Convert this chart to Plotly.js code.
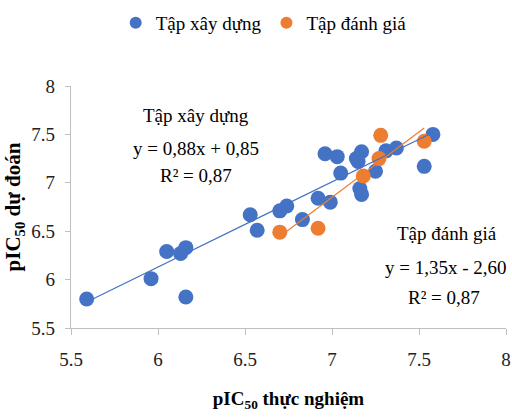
<!DOCTYPE html>
<html>
<head>
<meta charset="utf-8">
<script src="https://cdn.plot.ly/plotly-3.0.1.min.js"></script>
<style>html,body{margin:0;padding:0;background:#fff;}#chart{width:512px;height:417px;}</style>
</head>
<body>
<div id="chart"></div>
<script>
const trainX = [5.59, 5.96, 6.05, 6.13, 6.16, 6.16, 6.53, 6.57, 6.70, 6.74, 6.83, 6.92, 6.99, 6.96, 7.03, 7.05, 7.15, 7.17, 7.16, 7.17, 7.25, 7.31, 7.37, 7.53, 7.58, 7.14];
const trainY = [5.80, 6.01, 6.29, 6.27, 6.33, 5.82, 6.67, 6.51, 6.71, 6.76, 6.62, 6.84, 6.80, 7.30, 7.27, 7.10, 7.22, 7.32, 6.94, 6.88, 7.12, 7.33, 7.36, 7.17, 7.50, 7.25];
const testX = [6.70, 6.92, 7.18, 7.27, 7.28, 7.53];
const testY = [6.49, 6.53, 7.07, 7.25, 7.49, 7.43];
const trainFit = {slope: 0.88, intercept: 0.85, r2: 0.87};
const testFit = {slope: 1.35, intercept: -2.60, r2: 0.87};
const seriesNames = ["Tập xây dựng", "Tập đánh giá"];
const xTicks = [5.5, 6, 6.5, 7, 7.5, 8];
const yTicks = [5.5, 6, 6.5, 7, 7.5, 8];

const blue = "#4472C4", orange = "#ED7D31";
function fitLine(xs, f) {
  const lo = Math.min(...xs), hi = Math.max(...xs);
  return {x: [lo, hi], y: [f.slope*lo + f.intercept, f.slope*hi + f.intercept]};
}
const l1 = fitLine(trainX, trainFit), l2 = fitLine(testX, testFit);
const serif = '"Liberation Serif", "Times New Roman", serif';
const fmt = v => v.toFixed(2).replace(".", ",");

const data = [
  {x: trainX, y: trainY, type: "scatter", mode: "markers", name: seriesNames[0],
   marker: {color: blue, size: 15}},
  {x: testX, y: testY, type: "scatter", mode: "markers", name: seriesNames[1],
   marker: {color: orange, size: 15}},
  {x: l1.x, y: l1.y, type: "scatter", mode: "lines", showlegend: false,
   line: {color: blue, width: 1.2}, hoverinfo: "skip"},
  {x: l2.x, y: l2.y, type: "scatter", mode: "lines", showlegend: false,
   line: {color: orange, width: 1.2}, hoverinfo: "skip"}
];

const eq = f => "y = " + fmt(f.slope) + "x " + (f.intercept < 0 ? "- " : "+ ") + fmt(Math.abs(f.intercept));

// paper coords from pixel positions of the plot frame (x: 71..506, y: 86..328)
const px = p => (p - 71) / 435;
const py = p => (328 - p) / 242;
function ann(x, y, text) {
  return {xref: "paper", yref: "paper", x: px(x), y: py(y), xanchor: "center", yanchor: "middle",
          showarrow: false, align: "center", font: {size: 19, family: serif, color: "#000"}, text: text};
}

const layout = {
  width: 512, height: 417,
  margin: {l: 71, r: 6, t: 86, b: 89},
  paper_bgcolor: "#fff", plot_bgcolor: "#fff",
  font: {family: serif, color: "#000", size: 17},
  showlegend: true,
  legend: {orientation: "h", xref: "container", yref: "container", x: 0.515, y: 0.945,
           xanchor: "center", yanchor: "middle", font: {size: 19, family: serif, color: "#000"},
           itemsizing: "constant", itemwidth: 18, tracegroupgap: 0},
  xaxis: {range: [5.5, 8], tickvals: xTicks, ticktext: xTicks.map(String),
          showgrid: false, zeroline: false, showline: true, linecolor: "#bfbfbf", linewidth: 1.3,
          ticks: "outside", ticklen: 6, tickcolor: "#bfbfbf", ticklabelstandoff: 8,
          tickfont: {size: 19, family: serif, color: "#222"},
          title: {text: "<b>pIC<sub>50</sub> thực nghiệm</b>", font: {size: 19, family: serif, color: "#000"}, standoff: 22}},
  yaxis: {range: [5.5, 8], tickvals: yTicks, ticktext: yTicks.map(String),
          showgrid: false, zeroline: false, showline: true, linecolor: "#bfbfbf", linewidth: 1.3,
          ticks: "outside", ticklen: 5, tickcolor: "#bfbfbf", ticklabelstandoff: 6,
          tickfont: {size: 19, family: serif, color: "#222"},
          title: {text: "<b>pIC<sub>50</sub> dự đoán</b>", font: {size: 21, family: serif, color: "#000"}, standoff: 4}},
  annotations: [
    ann(196, 115, seriesNames[0]),
    ann(196, 148, eq(trainFit)),
    ann(196, 175, "R² = " + fmt(trainFit.r2)),
    ann(447, 233, seriesNames[1]),
    ann(446, 267, eq(testFit)),
    ann(444, 297, "R² = " + fmt(testFit.r2))
  ]
};
Plotly.newPlot("chart", data, layout, {displayModeBar: false, staticPlot: true});
</script>
</body>
</html>
